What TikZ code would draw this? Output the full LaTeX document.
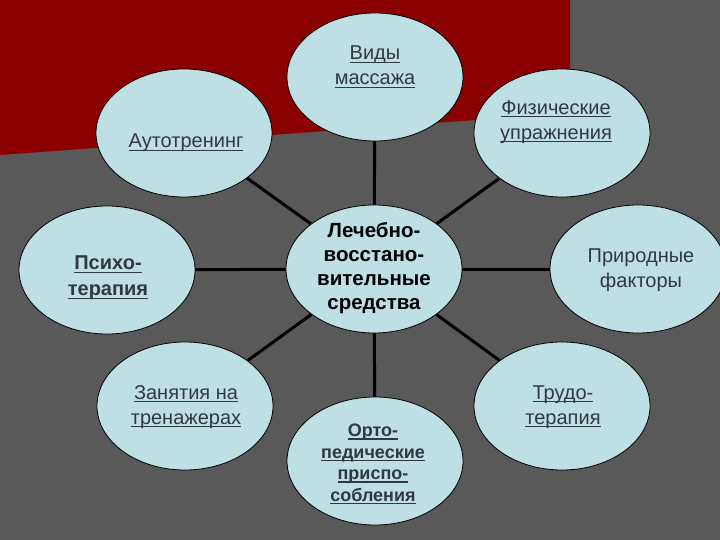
\documentclass[tikz,border=0pt]{standalone}
\usepackage{fontspec}
\setmainfont{Liberation Sans}
\usetikzlibrary{shapes.geometric}
\definecolor{bggray}{RGB}{89,89,89}
\definecolor{bgred}{RGB}{138,0,0}
\definecolor{bubfill}{RGB}{190,223,228}
\definecolor{txtgray}{RGB}{47,58,64}
\newsavebox\ulbox
\newcommand{\ulin}[1]{\sbox\ulbox{#1}\rlap{\rule[-3pt]{\wd\ulbox}{1.2pt}}\usebox\ulbox}
\tikzset{
  bub/.style={ellipse, draw=black, line width=0.8pt, fill=bubfill, minimum width=176pt, minimum height=128pt, inner sep=0pt},
  txt/.style={align=center, text=txtgray, inner sep=0pt, font=\fontsize{20}{25}\selectfont},
  boldtxt/.style={align=center, text=black, inner sep=0pt, font=\fontsize{20.5}{24}\selectfont\bfseries},
  link/.style={draw=black, line width=3pt}
}
\begin{document}
\begin{tikzpicture}[x=1pt,y=-1pt]
\useasboundingbox (0,0) rectangle (720,540);
\fill[bggray] (0,0) rectangle (720,540);
\fill[bgred] (0,0) -- (570,0) -- (570,113) -- (0,155) -- cycle;

% bubbles
\node[bub] (c)   at (374,269) {};
\node[bub] (vid) at (375,77) {};
\node[bub] (aut) at (184,133) {};
\node[bub] (fiz) at (562,133) {};
\node[bub] (psy) at (107,270) {};
\node[bub] (pri) at (638,269) {};
\node[bub] (zan) at (185,406) {};
\node[bub] (ort) at (375,461) {};
\node[bub] (tru) at (562,406) {};

% connectors
\foreach \n in {vid,aut,fiz,psy,pri,zan,ort,tru} \draw[link] (c) -- (\n);

% texts
\node[txt] (tvid) at (375,67) {\ulin{Виды}\\\ulin{массажа}};
\node[txt] (taut) at (186,143) {\ulin{Аутотренинг}};
\node[txt] (tfiz) at (556,122) {\ulin{Физические}\\\ulin{упражнения}};
\node[txt,font=\fontsize{20}{26}\selectfont\bfseries] (tpsy) at (108,278) {\ulin{Психо-}\\\ulin{терапия}};
\node[boldtxt] (tc) at (374,268) {Лечебно-\\восстано-\\вительные\\средства};
\node[txt] (tpri) at (641,270) {Природные\\факторы};
\node[txt] (tzan) at (186,407) {\ulin{Занятия на}\\\ulin{тренажерах}};
\node[txt,font=\fontsize{18}{21.5}\selectfont\bfseries] (tort) at (373,464) {\ulin{Орто-}\\\ulin{педические}\\\ulin{приспо-}\\\ulin{собления}};
\node[txt] (ttru) at (563,407) {\ulin{Трудо-}\\\ulin{терапия}};
\end{tikzpicture}
\end{document}
